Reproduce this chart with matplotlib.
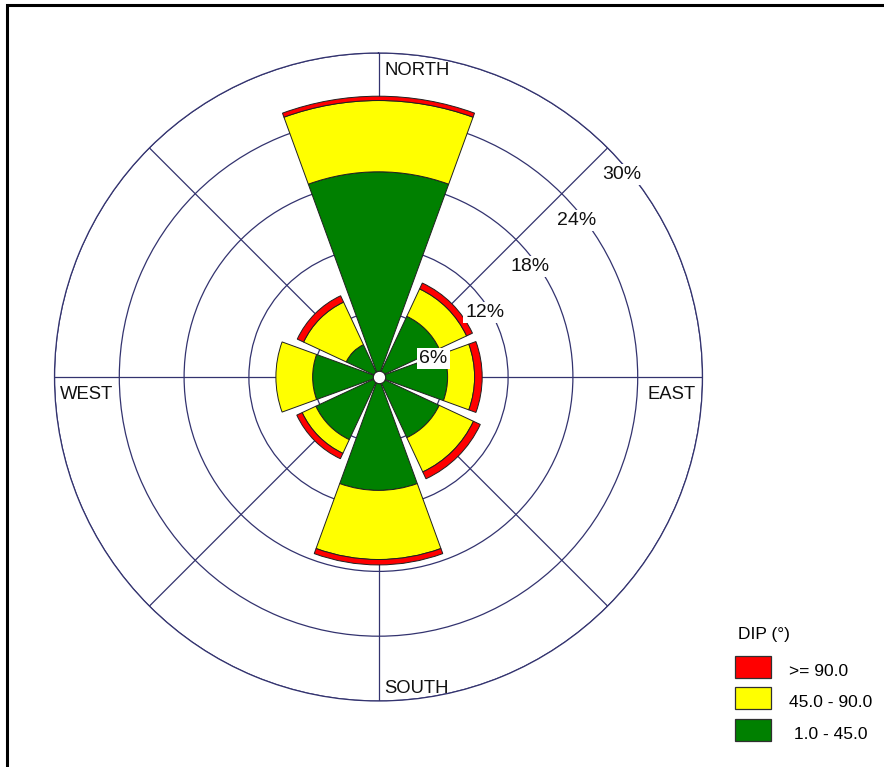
import numpy as np
import matplotlib
matplotlib.use('Agg')
import matplotlib.pyplot as plt
from matplotlib.patches import Rectangle

plt.rcParams['font.family'] = ['Liberation Sans', 'DejaVu Sans']

# strike directions (deg) and frequency (%) for each dip class
directions = [0, 45, 90, 135, 180, 225, 270, 315]
dip_low = [19.0, 6.2, 6.4, 6.2, 10.5, 6.4, 6.1, 3.3]     # 1.0 - 45.0
dip_mid = [6.6, 2.8, 2.5, 3.5, 6.4, 1.4, 3.4, 4.35]      # 45.0 - 90.0
dip_high = [0.4, 0.6, 0.7, 0.7, 0.5, 0.55, 0.0, 0.65]   # >= 90.0

ring_values = [6, 12, 18, 24, 30]
ring_labels = ['6%', '12%', '18%', '24%', '30%']
compass = ['NORTH', 'EAST', 'SOUTH', 'WEST']

legend_title = 'DIP (°)'
legend_labels = ['>= 90.0', '45.0 - 90.0', ' 1.0 - 45.0']
legend_colors = ['#ff0000', '#ffff00', '#008000']

W, H = 884, 767


def px(x, y):
    # pixel position (from top left) -> figure fraction
    return x / W, 1 - y / H


fig = plt.figure(figsize=(W / 100, H / 100), dpi=100)
cx, cy, R = 378.5, 377, 324
ax = fig.add_axes([(cx - R) / W, (H - cy - R) / H, 2 * R / W, 2 * R / H],
                  projection='polar')
ax.set_theta_zero_location('N')
ax.set_theta_direction(-1)
ax.set_ylim(0, 30)
ax.set_axisbelow(True)

grid_col = '#33336f'
ax.set_rticks(ring_values)
ax.set_yticklabels([])
ax.set_thetagrids(range(0, 360, 45), labels=[])
ax.grid(True, color=grid_col, linewidth=0.9)
ax.spines['polar'].set_color(grid_col)
ax.spines['polar'].set_linewidth(0.9)

theta = np.radians(directions)
width = np.radians(40)
low = np.array(dip_low)
mid = np.array(dip_mid)
high = np.array(dip_high)

ax.bar(theta, low, width=width, bottom=0, color=legend_colors[2],
       edgecolor='#202020', linewidth=0.7, zorder=3)
ax.bar(theta, mid, width=width, bottom=low, color=legend_colors[1],
       edgecolor='#202020', linewidth=0.7, zorder=3)
keep = high > 0
ax.bar(theta[keep], high[keep], width=width, bottom=(low + mid)[keep],
       color=legend_colors[0], edgecolor='#202020', linewidth=0.7, zorder=3)

# small white hub in the middle
ax.scatter([0], [0], s=80, color='white', edgecolor='#202020',
           linewidth=0.8, zorder=5)

# ring labels along the NE grid line
for val, lab in zip(ring_values, ring_labels):
    ax.annotate(lab, xy=(np.radians(45), val), xytext=(-5, -27),
                textcoords='offset pixels', ha='left', va='center',
                fontsize=14, color='#111111', zorder=6,
                bbox=dict(boxstyle='square,pad=0.1', fc='white', ec='none'))

# compass names inside the outer ring
offsets = {'NORTH': (0, (6.5, -22), 'left'),
           'EAST': (90, (-6.5, -22), 'right'),
           'SOUTH': (180, (5.5, 7.5), 'left'),
           'WEST': (270, (5, -22), 'left')}
for name in compass:
    ang, off, ha = offsets[name]
    ax.annotate(name, xy=(np.radians(ang), 30), xytext=off,
                textcoords='offset pixels', ha=ha, va='baseline',
                fontsize=13.3, color='#111111', annotation_clip=False)

# legend
fig.text(*px(738, 638.5), legend_title, fontsize=12.5, va='baseline')
for i, (lab, col) in enumerate(zip(legend_labels, legend_colors)):
    top = 655.5 + i * 31.8
    x0, y0 = px(735, top + 22)
    fig.add_artist(Rectangle((x0, y0), 36 / W, 22 / H, facecolor=col,
                             edgecolor='#303030', linewidth=0.9,
                             transform=fig.transFigure))
    fig.text(*px(789, top + 20), lab, fontsize=12.5, va='baseline')

# outer frame (right and bottom edges sit off the canvas)
fx, fy = px(7.5, 4.7)
fig.add_artist(Rectangle((fx, -0.5), 2, fy + 0.5, fill=False,
                         edgecolor='black', linewidth=2.2,
                         transform=fig.transFigure))

fig.savefig('out.png', dpi=100, facecolor='white')
